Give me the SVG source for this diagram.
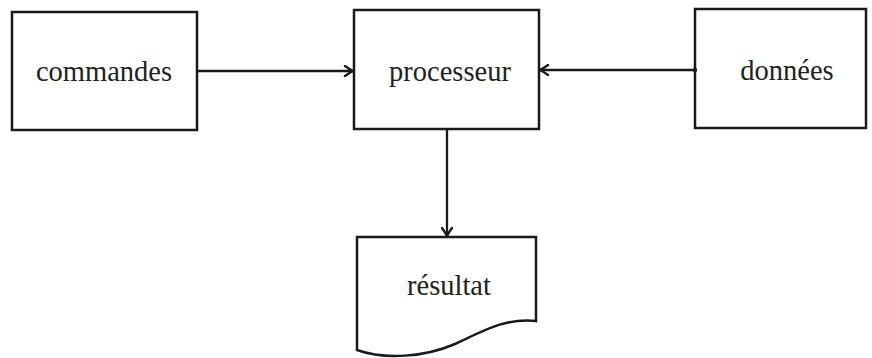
<svg xmlns="http://www.w3.org/2000/svg" width="872" height="358" viewBox="0 0 872 358">
<style>
.box{fill:#fff;stroke:#1a1a1a;stroke-width:2.5}
.lbl{font-family:"Liberation Serif","Times New Roman",serif;font-size:28.5px;fill:#222;text-anchor:middle}
.con{fill:none;stroke:#1a1a1a;stroke-width:2.3}
</style>
<defs>
<marker id="arr" viewBox="0 0 12 12" refX="11" refY="6" markerWidth="12" markerHeight="12" markerUnits="userSpaceOnUse" orient="auto">
<path d="M3,1 Q7,4 11,6 Q7,8 3,11" fill="none" stroke="#1a1a1a" stroke-width="2.4" stroke-linecap="round"/>
</marker>
</defs>
<rect width="872" height="358" fill="#fff"/>
<g id="commandes">
<rect class="box" x="12" y="12" width="185" height="118"/>
<text class="lbl" x="104" y="81">commandes</text>
</g>
<g id="processeur">
<rect class="box" x="354" y="10" width="185" height="119"/>
<text class="lbl" x="450" y="81">processeur</text>
</g>
<g id="donnees">
<rect class="box" x="695" y="9" width="171" height="119"/>
<text class="lbl" x="787" y="80">données</text>
</g>
<g id="resultat">
<path class="box" d="M357,237 H536 V321 C505,318 485,330 455,344 C425,357 385,360 357,350 Z"/>
<text class="lbl" x="449" y="295">résultat</text>
</g>
<g id="connectors">
<path class="con" d="M197,71 H353" marker-end="url(#arr)"/>
<path class="con" d="M695,70 H540" marker-end="url(#arr)"/>
<circle cx="695" cy="70" r="2.2" fill="#1a1a1a"/>
<path class="con" d="M447,129 V236" marker-end="url(#arr)"/>
</g>
</svg>
